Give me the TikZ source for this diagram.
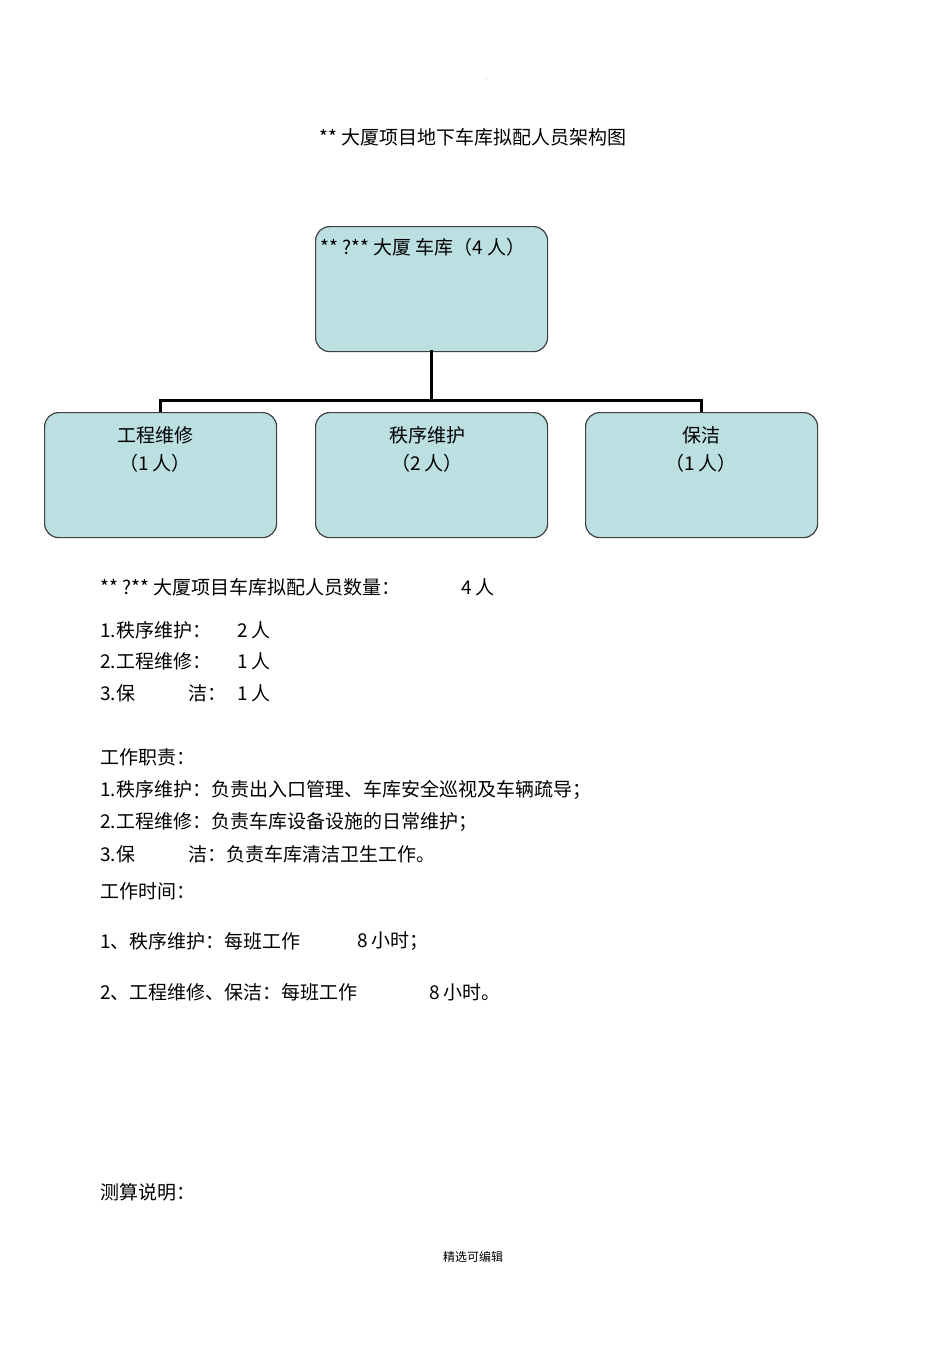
\documentclass[tikz,border=0pt]{standalone}
\usepackage{fontspec}
\setmainfont{Noto Sans CJK SC}
\definecolor{boxblue}{HTML}{BCDFE2}
\tikzset{
 org/.style={draw=black!75,line width=1.2pt,fill=boxblue,rounded corners=14pt,minimum width=232pt,minimum height=125pt,anchor=north west},
 txt/.style={anchor=west,inner sep=0pt,font=\fontsize{19pt}{22pt}\selectfont},
 ctr/.style={inner sep=0pt,font=\fontsize{19pt}{22pt}\selectfont},
 conn/.style={line width=3pt}
}
\begin{document}
\begin{tikzpicture}[x=1pt,y=-1pt]
\useasboundingbox (0,0) rectangle (950,1345);
\node[ctr] (title) at (473,137) {** 大厦项目地下车库拟配人员架构图};
\node[inner sep=0pt,font=\fontsize{5pt}{6pt}\selectfont] (dot) at (487,79) {.};
\node[org] (top) at (315,226) {};
\node[org] (c1) at (44,412) {};
\node[org] (c2) at (315,412) {};
\node[org] (c3) at (585,412) {};
\node[txt] (toptxt) at (320,247) {** ?** 大厦 车库（4 人）};
\node[ctr] (c1a) at (155,435) {工程维修};
\node[ctr] (c1b) at (155,463) {（1 人）};
\node[ctr] (c2a) at (427,435) {秩序维护};
\node[ctr] (c2b) at (427,463) {（2 人）};
\node[ctr] (c3a) at (701,435) {保洁};
\node[ctr] (c3b) at (701,463) {（1 人）};
\coordinate (j) at (431,400);
\draw[conn] (431,350) -- (j);
\draw[conn] (160,412) |- (j) -| (701,412);
\node[txt] (l1) at (100,587) {** ?** 大厦项目车库拟配人员数量：};
\node[txt] (l1b) at (461,587) {4 人};
\node[txt] (l2) at (100,630) {1.秩序维护：};
\node[txt] (l2b) at (237,630) {2 人};
\node[txt] (l3) at (100,661) {2.工程维修：};
\node[txt] (l3b) at (237,661) {1 人};
\node[txt] (l4) at (100,693) {3.保};
\node[txt] (l4b) at (188,693) {洁：};
\node[txt] (l4c) at (237,693) {1 人};
\node[txt] (l5) at (100,757) {工作职责：};
\node[txt] (l6) at (100,790) {1.秩序维护：负责出入口管理、车库安全巡视及车辆疏导；};
\node[txt] (l7) at (100,822) {2.工程维修：负责车库设备设施的日常维护；};
\node[txt] (l8) at (100,854) {3.保};
\node[txt] (l8b) at (188,854) {洁：负责车库清洁卫生工作。};
\node[txt] (l9) at (100,891) {工作时间：};
\node[txt] (l10) at (100,941) {1、秩序维护：每班工作};
\node[txt] (l10b) at (357,941) {8 小时；};
\node[txt] (l11) at (100,992) {2、工程维修、保洁：每班工作};
\node[txt] (l11b) at (429,992) {8 小时。};
\node[txt] (l12) at (100,1192) {测算说明：};
\node[inner sep=0pt,font=\fontsize{12pt}{14pt}\selectfont] (foot) at (473,1257) {精选可编辑};
\end{tikzpicture}
\end{document}
